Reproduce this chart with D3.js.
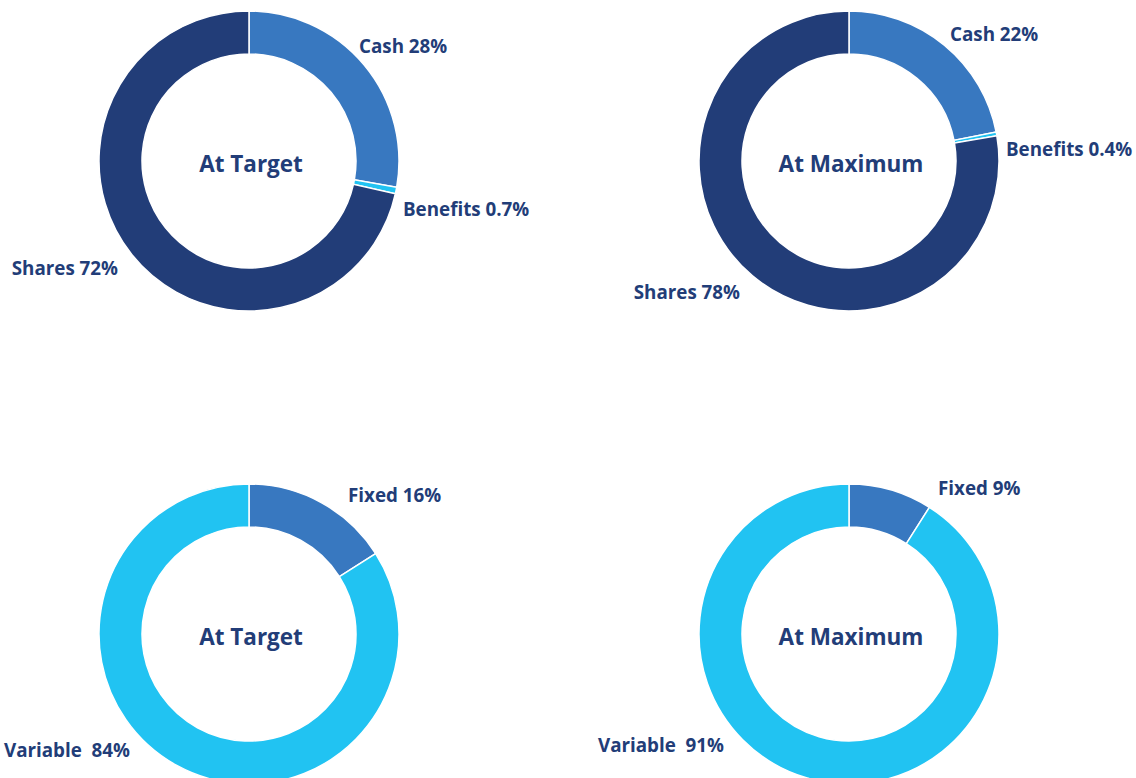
<!DOCTYPE html>
<html>
<head>
<meta charset="utf-8">
<script src="https://cdn.jsdelivr.net/npm/d3@7"></script>
<style>
body { margin: 0; background: #fff; }
text { font-family: "Open Sans", sans-serif; font-weight: bold; fill: #223d78; font-variant-ligatures: none; }
</style>
</head>
<body>
<svg id="chart"></svg>
<script>
// pay mix data
var mixNames = ["Cash", "Benefits", "Shares"];
var mixTarget = [28, 0.7, 72];
var mixMax = [22, 0.4, 78];

var splitNames = ["Fixed", "Variable"];
var splitTarget = [16, 84];
var splitMax = [9, 91];

var titles = ["At Target", "At Maximum", "At Target", "At Maximum"];

var mixColors = ["#3878c0", "#21c3f2", "#223d78"];
var splitColors = ["#3878c0", "#21c3f2"];

var width = 1136, height = 778;

var svg = d3.select("#chart")
    .attr("width", width)
    .attr("height", height)

var pie = d3.pie().sort(null).value(function(d){return d.value});
var arc = d3.arc().innerRadius(107).outerRadius(150);

// label placement, relative to donut centre
var labelSpots = [
    [{dx:110, dy:-115, a:"start"}, {dx:154, dy:48, a:"start"}, {dx:-131, dy:107, a:"end"}],
    [{dx:101, dy:-127, a:"start"}, {dx:157, dy:-12, a:"start"}, {dx:-109, dy:131, a:"end"}],
    [{dx:99, dy:-139, a:"start"}, {dx:-119, dy:116, a:"end"}],
    [{dx:89, dy:-146, a:"start"}, {dx:-125, dy:111, a:"end"}]
];

var makeRows = function(names, values)
{
    return names.map(function(n, i){ return {name:n, value:values[i]} });
}

var fmt = function(name, v)
{
    var sep = name == "Variable" ? "\u00a0 " : " ";
    return name + sep + v + "%";
}

var donuts = [
    {rows: makeRows(mixNames, mixTarget), colors: mixColors, cx:249, cy:161},
    {rows: makeRows(mixNames, mixMax), colors: mixColors, cx:849, cy:161},
    {rows: makeRows(splitNames, splitTarget), colors: splitColors, cx:249, cy:634},
    {rows: makeRows(splitNames, splitMax), colors: splitColors, cx:849, cy:634}
];

donuts.forEach(function(d, k)
{
    var g = svg.append("g")
        .attr("transform", "translate(" + d.cx + "," + d.cy + ")")

    g.selectAll("path")
        .data(pie(d.rows))
        .enter()
        .append("path")
        .attr("d", arc)
        .attr("fill", function(p, i){return d.colors[i]})
        .attr("stroke", "#fff")
        .attr("stroke-width", 1.5)

    g.append("text")
        .attr("x", 2)
        .attr("y", 2)
        .attr("text-anchor", "middle")
        .attr("dominant-baseline", "central")
        .style("font-size", "22.5px")
        .text(titles[k])

    g.selectAll(".lbl")
        .data(d.rows)
        .enter()
        .append("text")
        .attr("class", "lbl")
        .attr("x", function(r, i){return labelSpots[k][i].dx})
        .attr("y", function(r, i){return labelSpots[k][i].dy})
        .attr("text-anchor", function(r, i){return labelSpots[k][i].a})
        .attr("dominant-baseline", "central")
        .style("font-size", "18.8px")
        .text(function(r){return fmt(r.name, r.value)})
})
</script>
</body>
</html>
